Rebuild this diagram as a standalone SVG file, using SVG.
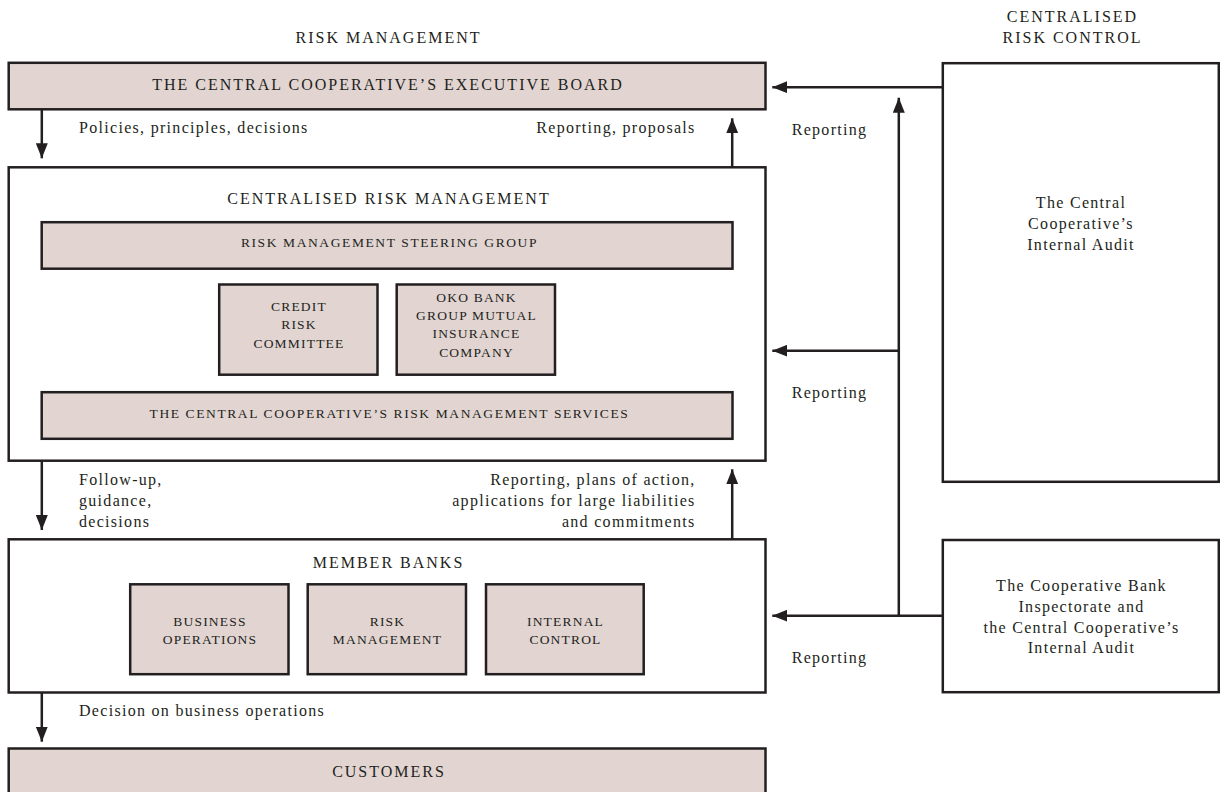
<svg xmlns="http://www.w3.org/2000/svg" width="1220" height="792" viewBox="0 0 1220 792">
<defs>
<style>
text{font-family:"Liberation Serif","Times New Roman",serif;fill:#231f20}
.box{fill:#e1d4d1;stroke:#231f20;stroke-width:2.5}
.frame{fill:#ffffff;stroke:#231f20;stroke-width:2.5}
.hd{font-size:16px;letter-spacing:2px;text-anchor:middle}
.wide{font-size:13.5px;letter-spacing:1.6px;text-anchor:middle}
.small{font-size:13.5px;letter-spacing:1.2px;text-anchor:middle}
.body{font-size:16px;letter-spacing:1.3px}
.mid{text-anchor:middle}
.end{text-anchor:end}
.conn{fill:none;stroke:#231f20;stroke-width:2.5}
</style>
<marker id="arrow" markerUnits="userSpaceOnUse" markerWidth="16" markerHeight="12" refX="15" refY="6" orient="auto">
<path d="M0,0 L15,6 L0,12 Z" fill="#231f20"/>
</marker>
</defs>
<rect width="1220" height="792" fill="#ffffff"/>

<g id="titles">
<text class="hd" x="388.5" y="43.3">RISK MANAGEMENT</text>
<text class="hd" x="1072.5" y="22.3">CENTRALISED</text>
<text class="hd" x="1072.5" y="43.3">RISK CONTROL</text>
</g>

<g id="executive-board">
<rect class="box" x="8.7" y="62.8" width="756.8" height="46.5"/>
<text class="hd" x="388" y="90">THE CENTRAL COOPERATIVE’S EXECUTIVE BOARD</text>
</g>

<g id="centralised-risk-management">
<rect class="frame" x="8.7" y="167.3" width="756.8" height="293.4"/>
<text class="hd" x="389" y="204">CENTRALISED RISK MANAGEMENT</text>
</g>

<g id="steering-group">
<rect class="box" x="41.7" y="222.2" width="690.8" height="46.5"/>
<text class="wide" x="389.5" y="247.3">RISK MANAGEMENT STEERING GROUP</text>
</g>

<g id="credit-risk-committee">
<rect class="box" x="219.2" y="284.5" width="158.3" height="90.2"/>
<text class="small" x="299" y="310.7">CREDIT</text>
<text class="small" x="299" y="329.2">RISK</text>
<text class="small" x="299" y="347.5">COMMITTEE</text>
</g>

<g id="oko-insurance">
<rect class="box" x="396.7" y="284.5" width="158.3" height="90.2"/>
<text class="small" x="476.5" y="301.7">OKO BANK</text>
<text class="small" x="476.5" y="320">GROUP MUTUAL</text>
<text class="small" x="476.5" y="338.3">INSURANCE</text>
<text class="small" x="476.5" y="356.5">COMPANY</text>
</g>

<g id="risk-management-services">
<rect class="box" x="41.7" y="392.2" width="690.8" height="46.6"/>
<text class="wide" x="389.5" y="418.3">THE CENTRAL COOPERATIVE’S RISK MANAGEMENT SERVICES</text>
</g>

<g id="member-banks">
<rect class="frame" x="8.7" y="539.3" width="756.8" height="153.2"/>
<text class="hd" x="388.5" y="568.3">MEMBER BANKS</text>
</g>

<g id="business-operations">
<rect class="box" x="130.2" y="584.3" width="158.3" height="89.9"/>
<text class="small" x="210" y="625.7">BUSINESS</text>
<text class="small" x="210" y="644">OPERATIONS</text>
</g>

<g id="risk-management">
<rect class="box" x="307.7" y="584.3" width="158.3" height="89.9"/>
<text class="small" x="387.5" y="625.7">RISK</text>
<text class="small" x="387.5" y="644">MANAGEMENT</text>
</g>

<g id="internal-control">
<rect class="box" x="486" y="584.3" width="157.7" height="89.9"/>
<text class="small" x="565.5" y="625.7">INTERNAL</text>
<text class="small" x="565.5" y="644">CONTROL</text>
</g>

<g id="customers">
<rect class="box" x="8.7" y="748.5" width="756.8" height="60"/>
<text class="hd" x="389" y="777.3">CUSTOMERS</text>
</g>

<g id="internal-audit">
<rect class="frame" x="942.8" y="63.2" width="276" height="418.6"/>
<text class="body mid" x="1081" y="208">The Central</text>
<text class="body mid" x="1081" y="229">Cooperative’s</text>
<text class="body mid" x="1081" y="250">Internal Audit</text>
</g>

<g id="inspectorate">
<rect class="frame" x="942.8" y="540" width="276" height="152.2"/>
<text class="body mid" x="1081.5" y="590.7">The Cooperative Bank</text>
<text class="body mid" x="1081.5" y="611.7">Inspectorate and</text>
<text class="body mid" x="1081.5" y="632.7">the Central Cooperative’s</text>
<text class="body mid" x="1081.5" y="653.3">Internal Audit</text>
</g>

<g id="connectors">
<line class="conn" x1="41.8" y1="109.3" x2="41.8" y2="158.3" marker-end="url(#arrow)"/>
<line class="conn" x1="732.2" y1="167.3" x2="732.2" y2="118.3" marker-end="url(#arrow)"/>
<line class="conn" x1="41.8" y1="460.7" x2="41.8" y2="530" marker-end="url(#arrow)"/>
<line class="conn" x1="732.2" y1="539.3" x2="732.2" y2="469.3" marker-end="url(#arrow)"/>
<line class="conn" x1="41.8" y1="692.5" x2="41.8" y2="741.7" marker-end="url(#arrow)"/>
<line class="conn" x1="942.8" y1="87.2" x2="772.3" y2="87.2" marker-end="url(#arrow)"/>
<line class="conn" x1="898.8" y1="616.9" x2="898.8" y2="97.7" marker-end="url(#arrow)"/>
<line class="conn" x1="898.8" y1="350.7" x2="772.3" y2="350.7" marker-end="url(#arrow)"/>
<line class="conn" x1="942.8" y1="615.7" x2="772.3" y2="615.7" marker-end="url(#arrow)"/>
</g>

<g id="connector-labels">
<text class="body" x="79" y="132.7">Policies, principles, decisions</text>
<text class="body end" x="695.6" y="132.7">Reporting, proposals</text>
<text class="body" x="791.7" y="135">Reporting</text>
<text class="body" x="791.7" y="398">Reporting</text>
<text class="body" x="791.7" y="663.3">Reporting</text>
<text class="body" x="79" y="485">Follow-up,</text>
<text class="body" x="79" y="506">guidance,</text>
<text class="body" x="79" y="526.7">decisions</text>
<text class="body end" x="695.6" y="485">Reporting, plans of action,</text>
<text class="body end" x="695.6" y="506">applications for large liabilities</text>
<text class="body end" x="695.6" y="526.7">and commitments</text>
<text class="body" x="79" y="716">Decision on business operations</text>
</g>
</svg>
